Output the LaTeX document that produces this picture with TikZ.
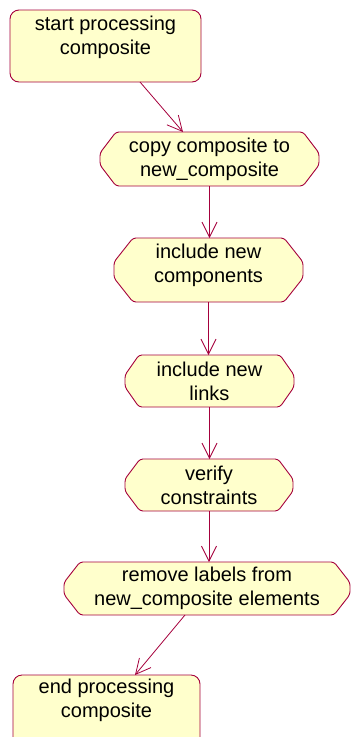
\documentclass[tikz,border=0pt]{standalone}
\usepackage{fontspec}
\setmainfont{Liberation Sans}
\usetikzlibrary{arrows.meta,backgrounds,calc}
\definecolor{rose}{RGB}{165,0,60}
\definecolor{pale}{RGB}{255,255,204}
\tikzset{
  rbox/.style={draw=rose, fill=pale, line width=0.9pt, rounded corners=9pt, inner sep=0pt, outer sep=0pt},
  txt/.style={align=center, inner sep=0pt, font=\fontsize{20}{24}\selectfont},
  hexnode/.style={align=center, inner sep=0pt, outer sep=0pt, font=\fontsize{20}{24}\selectfont},
  hexfill/.style={draw=rose, fill=pale, line width=0.9pt, rounded corners=3pt},
  arr/.style={draw=rose, line width=0.8pt, -{Straight Barb[length=15pt,width=15pt]}}
}
\newcommand\hexbg[3]{\path[hexfill] ($(#1.north west)+(#2,0)$) -- ($(#1.north east)+(-#2,0)$) -- ($(#1.east)+(0,-#3)$) -- ($(#1.east)+(0,#3)$) -- ($(#1.south east)+(-#2,0)$) -- ($(#1.south west)+(#2,0)$) -- ($(#1.west)+(0,#3)$) -- ($(#1.west)+(0,-#3)$) -- cycle;}
\begin{document}
\begin{tikzpicture}[x=1pt,y=-1pt]
\useasboundingbox (0,0) rectangle (351,737);
\clip (0,0) rectangle (351,737);
\node[rbox, minimum width=191pt, minimum height=72pt] (start) at (105.5,46) {};
\node[txt] (startlbl) at (105.5,37) {start processing\\composite};
\node[hexnode, minimum width=219pt, minimum height=54pt] (copy) at (209.5,159) {copy composite to\\new\_composite};
\node[hexnode, minimum width=189pt, minimum height=64pt, text depth=14pt] (comp) at (208.5,270) {include new\\components};
\node[hexnode, minimum width=169pt, minimum height=52pt] (links) at (209.5,381) {include new\\links};
\node[hexnode, minimum width=168pt, minimum height=52pt] (verify) at (209,485) {verify\\constraints};
\node[hexnode, minimum width=286pt, minimum height=53pt] (remove) at (207,588.5) {remove labels from\\new\_composite elements};
\node[rbox, minimum width=187pt, minimum height=72pt] (end) at (106.5,711) {};
\node[txt] (endlbl) at (106.5,700) {end processing\\composite};
\begin{scope}[on background layer]
\hexbg{copy}{16}{6}
\hexbg{comp}{19}{8}
\hexbg{links}{14}{6}
\hexbg{verify}{15}{6}
\hexbg{remove}{16}{6}
\end{scope}
\draw[arr] ([xshift=34.5pt]start.south) -- ([xshift=-26.5pt]copy.north);
\draw[arr] (copy.south) -- (copy.south |- comp.north);
\draw[arr] (comp.south) -- (comp.south |- links.north);
\draw[arr] (links.south) -- (links.south |- verify.north);
\draw[arr] (verify.south) -- (verify.south |- remove.north);
\draw[arr] ([xshift=-22pt]remove.south) -- ([xshift=28.5pt]end.north);
\end{tikzpicture}
\end{document}
